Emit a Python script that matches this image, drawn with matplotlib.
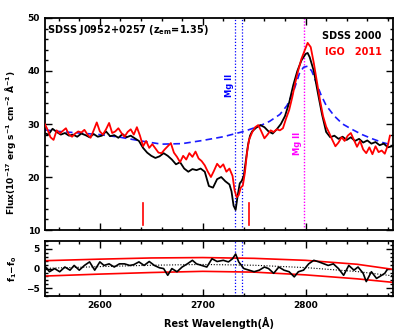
import numpy as np
import matplotlib
matplotlib.use('Agg')
import matplotlib.pyplot as plt
from matplotlib.ticker import MultipleLocator

plt.rcParams['font.family'] = ['DejaVu Sans']
plt.rcParams['font.weight'] = 'bold'
plt.rcParams['mathtext.default'] = 'bf'

# SDSS 2000 spectrum
lam_sdss = [2546, 2550, 2554, 2558, 2562, 2566, 2570, 2574, 2578, 2582, 2586, 2590,
            2594, 2598, 2602, 2606, 2610, 2614, 2618, 2622, 2626, 2630, 2634, 2638,
            2642, 2646, 2650, 2654, 2658, 2662, 2666, 2670, 2674, 2678, 2682, 2686,
            2690, 2694, 2698, 2702, 2706, 2710, 2714, 2718, 2722, 2726, 2728, 2730,
            2732, 2734, 2736, 2738, 2740, 2742, 2744, 2746, 2748, 2752, 2756, 2760,
            2764, 2768, 2772, 2776, 2780, 2784, 2788, 2792, 2796, 2800, 2802, 2804,
            2808, 2812, 2816, 2820, 2824, 2828, 2832, 2836, 2840, 2844, 2848, 2852,
            2856, 2860, 2864, 2868, 2872, 2876, 2880, 2884]
flux_sdss = [28.3, 28.0, 29.1, 28.5, 28.0, 28.3, 27.8, 28.0, 27.6, 28.2, 27.9, 27.5,
             28.1, 27.6, 27.8, 28.6, 27.7, 27.9, 27.4, 28.1, 27.5, 27.8, 27.3, 26.8,
             25.5, 24.6, 24.0, 23.6, 23.9, 24.5, 24.0, 23.3, 22.4, 22.8, 21.6, 21.0,
             21.5, 21.3, 21.6, 21.0, 18.3, 18.0, 19.6, 20.0, 19.2, 18.6, 17.3, 14.6,
             13.8, 16.5, 18.8, 19.3, 20.3, 23.2, 26.0, 27.8, 28.6, 29.3, 29.8, 29.4,
             28.6, 28.2, 29.0, 30.0, 31.5, 34.0, 37.3, 40.0, 42.0, 43.2, 43.4, 42.6,
             40.0, 35.8, 31.8, 28.5, 27.5, 27.8, 27.2, 27.6, 27.0, 27.5, 26.8, 27.2,
             26.5, 26.9, 26.3, 26.6, 26.0, 26.3, 25.6, 25.8]

# IGO 2011 spectrum
lam_igo = [2546, 2549, 2552, 2555, 2558, 2561, 2564, 2567, 2570, 2573, 2576, 2579,
           2582, 2585, 2588, 2591, 2594, 2597, 2600, 2603, 2606, 2609, 2612, 2615,
           2618, 2621, 2624, 2627, 2630, 2633, 2636, 2639, 2642, 2645, 2648, 2651,
           2654, 2657, 2660, 2663, 2666, 2669, 2672, 2675, 2678, 2681, 2684, 2687,
           2690, 2693, 2696, 2699, 2702, 2705, 2708, 2711, 2714, 2717, 2720, 2723,
           2726, 2729, 2731, 2733, 2735, 2737, 2739, 2741, 2743, 2745, 2748, 2751,
           2754, 2757, 2760, 2763, 2766, 2769, 2772, 2775, 2778, 2781, 2784, 2787,
           2790, 2793, 2796, 2799, 2802, 2805, 2808, 2811, 2814, 2817, 2820, 2823,
           2826, 2829, 2832, 2835, 2838, 2841, 2844, 2847, 2850, 2853, 2856, 2859,
           2862, 2865, 2868, 2871, 2874, 2877, 2880, 2882]
flux_igo = [30.2, 29.0, 27.5, 27.0, 28.8, 28.2, 28.7, 29.2, 28.0, 27.6, 28.2, 28.6,
            28.4, 28.9, 28.0, 27.4, 28.8, 30.3, 28.6, 28.0, 29.0, 30.2, 28.3, 28.6,
            29.2, 28.3, 27.6, 28.5, 29.0, 28.0, 29.4, 27.8, 25.8, 26.8, 25.5, 26.2,
            25.4, 24.6, 24.5, 25.2, 25.8, 26.4, 24.6, 23.8, 22.8, 24.0, 23.3, 24.5,
            23.8, 24.8, 23.5, 23.0, 22.2, 21.0, 20.0, 21.2, 22.5, 21.8, 22.4, 21.0,
            21.6, 20.2, 17.5, 16.2, 16.6, 18.0, 18.4, 20.8, 24.5, 27.0, 28.4, 29.4,
            29.8, 28.6, 27.3, 28.0, 28.8, 28.5, 29.0, 28.8, 29.2, 31.0, 32.6, 35.0,
            37.8, 40.2, 42.3, 43.8, 45.3, 44.5, 41.5, 38.0, 34.5, 31.5, 29.5, 28.3,
            27.0, 25.8, 26.5, 27.5, 26.8, 27.8, 28.3, 27.0, 25.7, 26.8, 25.2, 24.5,
            25.6, 24.3, 25.8, 24.7, 25.0, 24.4, 26.0, 27.8]

# model (blue dashed)
lam_model = [2546, 2560, 2580, 2600, 2620, 2640, 2660, 2680, 2700, 2720, 2740, 2755,
             2765, 2775, 2782, 2788, 2794, 2798, 2802, 2806, 2810, 2815, 2820, 2828,
             2836, 2845, 2855, 2865, 2875, 2885]
flux_model = [28.9, 28.6, 28.3, 28.0, 27.5, 26.8, 26.2, 26.3, 26.9, 27.6, 28.6, 29.6,
              30.5, 31.8, 33.5, 36.0, 39.5, 40.7, 40.9, 40.0, 38.0, 35.5, 33.5, 31.5,
              30.0, 29.0, 28.0, 27.2, 26.5, 26.0]

# difference spectrum f1 - f0
lam_diff = [2546, 2551, 2556, 2561, 2566, 2571, 2575, 2580, 2585, 2590, 2595, 2600,
            2604, 2609, 2614, 2619, 2624, 2629, 2633, 2638, 2643, 2648, 2653, 2658,
            2662, 2666, 2670, 2675, 2680, 2685, 2690, 2694, 2699, 2704, 2709, 2714,
            2720, 2725, 2729, 2732, 2735, 2740, 2745, 2750, 2755, 2760, 2764, 2769,
            2774, 2779, 2784, 2789, 2793, 2798, 2803, 2808, 2813, 2818, 2822, 2827,
            2832, 2837, 2842, 2847, 2851, 2856, 2859, 2864, 2869, 2874, 2877, 2879]
diff = [0.8, -0.8, 0.0, -0.8, 0.4, -0.4, 0.8, -0.4, 0.8, 1.7, -0.4, 1.7,
        0.8, 1.2, 0.4, 1.2, 1.2, 0.8, 1.0, 1.7, 0.8, 1.8, 0.8, 0.2,
        0.0, -1.7, 0.0, -0.8, 0.4, 1.2, 2.1, 1.2, 0.8, 0.4, 2.5, 1.8,
        2.1, 1.7, 2.5, 3.7, 1.7, 0.0, -0.4, -0.8, -0.4, 0.4, 0.0, -1.2,
        0.4, -0.4, -0.8, -2.1, -0.8, -0.4, 1.2, 2.1, 1.7, 1.2, 0.8, 1.2,
        0.0, -1.7, 0.8, -0.4, 0.4, -1.2, -3.3, -0.8, -2.5, -1.7, -1.2, -0.4]

# envelope (red) in the lower panel
lam_env = [2546, 2600, 2650, 2700, 2750, 2800, 2850, 2885]
env_hi = [2.0, 2.4, 2.7, 2.8, 2.6, 2.1, 1.1, -0.2]
env_lo = [-1.9, -1.4, -1.0, -0.7, -0.9, -1.6, -2.6, -3.5]
env_mid = [(a + b) / 2 for a, b in zip(env_hi, env_lo)]

mg_abs = [2731.4, 2738.6]
mg_em = 2798
red_ticks = [2642, 2745]

fig = plt.figure(figsize=(4.15, 3.32), dpi=100)
ax = fig.add_axes([0.108, 0.307, 0.839, 0.639])
ax2 = fig.add_axes([0.108, 0.108, 0.839, 0.166])

xmin, xmax = 2546.5, 2885

# top panel
ax.plot(lam_model, flux_model, color='#1a1aff', lw=1.2, ls=(0, (4, 2.5)), zorder=2)
ax.plot(lam_sdss, flux_sdss, color='black', lw=1.3, zorder=3)
ax.plot(lam_igo, flux_igo, color='red', lw=1.3, zorder=4)
for w in mg_abs:
    ax.axvline(w, color='blue', lw=0.9, ls=(0, (1, 1.5)), zorder=1)
    ax2.axvline(w, color='blue', lw=0.9, ls=(0, (1, 1.5)), zorder=1)
ax.axvline(mg_em, color='magenta', lw=1.0, ls=(0, (1, 1.2)), zorder=1)
for w in red_ticks:
    ax.plot([w, w], [11.0, 15.1], color='red', lw=1.2)

ax.text(2549, 47.8, 'SDSS J0952+0257 (z$_{em}$=1.35)', fontsize=7,
        fontweight='bold', va='center', ha='left')
ax.text(2874, 46.6, 'SDSS 2000', fontsize=7, fontweight='bold', ha='right', va='center')
ax.text(2874, 43.6, 'IGO   2011', fontsize=7, fontweight='bold', ha='right', va='center',
        color='red')
ax.text(2726, 37.3, 'Mg II', rotation=90, color='blue', fontsize=6, fontweight='bold',
        ha='center', va='center')
ax.text(2792, 26.4, 'Mg II', rotation=90, color='magenta', fontsize=6, fontweight='bold',
        ha='center', va='center')

ax.set_xlim(xmin, xmax)
ax.set_ylim(10, 50)
ax.yaxis.set_major_locator(MultipleLocator(10))
ax.yaxis.set_minor_locator(MultipleLocator(2))
ax.xaxis.set_major_locator(MultipleLocator(100))
ax.xaxis.set_minor_locator(MultipleLocator(20))
ax.set_xticklabels([])
ax.set_ylabel('Flux(10$^{-17}$ erg s$^{-1}$ cm$^{-2}$ \u00c5$^{-1}$)', fontsize=6.5,
              fontweight='bold')
ax.yaxis.set_label_coords(-0.078, 0.41)

# bottom panel
ax2.plot(lam_env, env_hi, color='red', lw=1.2)
ax2.plot(lam_env, env_lo, color='red', lw=1.2)
ax2.plot(lam_env, env_mid, color='black', lw=0.8, ls=(0, (1, 1.5)))
ax2.plot(lam_diff, diff, color='black', lw=1.2)
ax2.set_xlim(xmin, xmax)
ax2.set_ylim(-7, 7)
ax2.yaxis.set_major_locator(MultipleLocator(5))
ax2.yaxis.set_minor_locator(MultipleLocator(1))
ax2.xaxis.set_major_locator(MultipleLocator(100))
ax2.xaxis.set_minor_locator(MultipleLocator(20))
ax2.set_ylabel('f$_1$\u2212f$_0$', fontsize=6.5, fontweight='bold', labelpad=5)
ax2.set_xlabel('Rest Wavelength(\u00c5)', fontsize=7, fontweight='bold', labelpad=5)

for a in (ax, ax2):
    for s in a.spines.values():
        s.set_linewidth(1.3)
    a.tick_params(which='both', direction='in', top=True, right=True, width=1.0,
                  labelsize=6.5)
    a.tick_params(which='major', length=5)
    a.tick_params(which='minor', length=2.5)
    for lbl in a.get_xticklabels() + a.get_yticklabels():
        lbl.set_fontweight('bold')

fig.savefig('out.png', dpi=100)
